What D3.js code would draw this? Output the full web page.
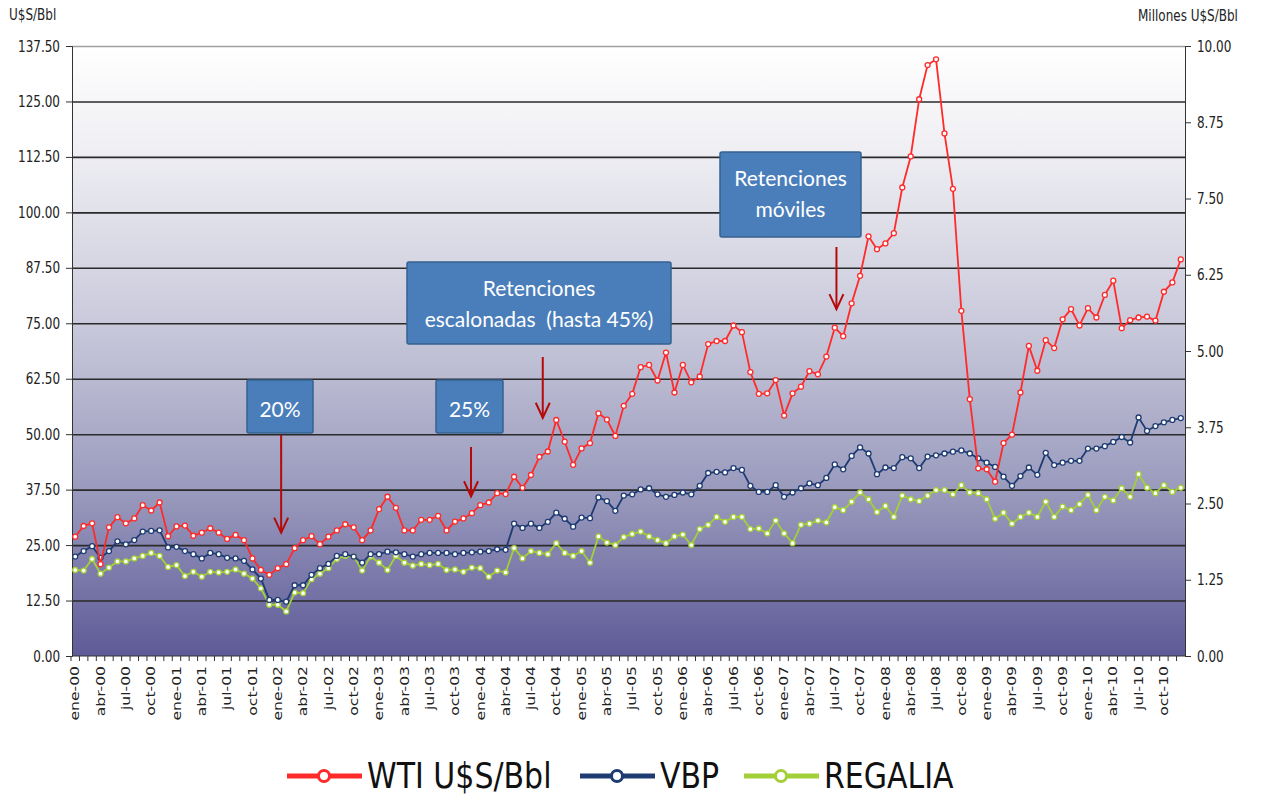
<!DOCTYPE html>
<html>
<head>
<meta charset="utf-8">
<script src="https://cdn.jsdelivr.net/npm/d3@7"></script>
<style>
  body { margin: 0; background: #fff; }
  svg { display: block; font-family: "DejaVu Sans", Verdana, sans-serif; }
</style>
</head>
<body>
<svg width="1263" height="797"></svg>
<script>
// categories
const monthNames = ["ene", "feb", "mar", "abr", "may", "jun", "jul", "ago", "sep", "oct", "nov", "dic"];
const years = ["00", "01", "02", "03", "04", "05", "06", "07", "08", "09", "10"];

// WTI, U$S/Bbl (left axis)
const wti = [
  26.9, 29.3, 29.9, 20.7, 29.0, 31.3, 29.9, 31.0, 34.0, 32.8, 34.6, 27.0,
  29.2, 29.4, 27.1, 27.8, 28.8, 27.8, 26.4, 27.3, 26.1, 22.0, 19.4, 18.3,
  19.8, 20.7, 24.3, 26.1, 27.0, 25.2, 26.9, 28.3, 29.7, 29.0, 26.1, 28.3,
  33.1, 35.9, 33.4, 28.3, 28.3, 30.7, 30.7, 31.6, 28.3, 30.3, 31.0, 32.2,
  34.0, 34.6, 36.7, 36.5, 40.4, 37.9, 40.8, 44.9, 46.1, 53.2, 48.3, 43.1,
  46.8, 48.0, 54.7, 53.3, 49.6, 56.4, 59.1, 65.1, 65.6, 62.1, 68.4, 59.4,
  65.6, 61.7, 63.0, 70.3, 71.0, 71.0, 74.5, 73.0, 64.0, 59.1, 59.2, 62.2,
  54.2, 59.2, 60.7, 64.2, 63.5, 67.5, 74.0, 72.1, 79.5, 85.7, 94.6, 91.7,
  93.0, 95.3, 105.6, 112.6, 125.5, 133.2, 134.5, 117.8, 105.3, 77.8, 57.9, 42.3,
  42.1, 39.3, 48.0, 49.9, 59.4, 69.9, 64.3, 71.2, 69.4, 75.9, 78.2, 74.5,
  78.4, 76.3, 81.4, 84.6, 73.9, 75.7, 76.3, 76.5, 75.6, 82.1, 84.2, 89.4
];

// VBP, millones (right axis)
const vbp = [
  1.63, 1.72, 1.80, 1.61, 1.72, 1.88, 1.83, 1.90, 2.04, 2.05, 2.06, 1.78,
  1.79, 1.72, 1.67, 1.60, 1.69, 1.67, 1.61, 1.60, 1.56, 1.42, 1.27, 0.92,
  0.92, 0.89, 1.16, 1.16, 1.33, 1.44, 1.51, 1.64, 1.67, 1.63, 1.53, 1.67,
  1.67, 1.71, 1.70, 1.67, 1.63, 1.67, 1.69, 1.69, 1.69, 1.67, 1.69, 1.70,
  1.71, 1.72, 1.75, 1.74, 2.17, 2.10, 2.17, 2.10, 2.20, 2.35, 2.25, 2.12,
  2.27, 2.26, 2.60, 2.54, 2.38, 2.63, 2.65, 2.73, 2.75, 2.65, 2.61, 2.64,
  2.68, 2.65, 2.79, 3.00, 3.02, 3.01, 3.08, 3.05, 2.79, 2.69, 2.69, 2.80,
  2.61, 2.68, 2.75, 2.83, 2.80, 2.92, 3.14, 3.06, 3.28, 3.42, 3.32, 2.98,
  3.09, 3.08, 3.26, 3.24, 3.08, 3.27, 3.29, 3.32, 3.35, 3.37, 3.32, 3.24,
  3.17, 3.10, 2.94, 2.79, 2.95, 3.09, 2.97, 3.33, 3.13, 3.17, 3.20, 3.20,
  3.40, 3.40, 3.44, 3.51, 3.59, 3.50, 3.91, 3.69, 3.77, 3.83, 3.87, 3.90
];

// REGALIA, millones (right axis)
const regalia = [
  1.41, 1.40, 1.59, 1.35, 1.45, 1.55, 1.55, 1.60, 1.64, 1.69, 1.64, 1.46,
  1.49, 1.31, 1.38, 1.30, 1.38, 1.37, 1.38, 1.42, 1.35, 1.27, 1.11, 0.84,
  0.84, 0.73, 1.04, 1.03, 1.26, 1.35, 1.44, 1.59, 1.64, 1.63, 1.40, 1.63,
  1.53, 1.41, 1.64, 1.53, 1.48, 1.51, 1.49, 1.51, 1.41, 1.42, 1.38, 1.45,
  1.44, 1.30, 1.40, 1.37, 1.77, 1.60, 1.72, 1.69, 1.67, 1.85, 1.69, 1.64,
  1.72, 1.53, 1.96, 1.86, 1.82, 1.95, 2.00, 2.04, 1.96, 1.90, 1.85, 1.96,
  1.99, 1.82, 2.08, 2.15, 2.28, 2.20, 2.28, 2.28, 2.08, 2.09, 2.01, 2.22,
  2.01, 1.85, 2.15, 2.17, 2.22, 2.19, 2.44, 2.39, 2.53, 2.68, 2.57, 2.36,
  2.46, 2.28, 2.63, 2.57, 2.54, 2.63, 2.72, 2.72, 2.65, 2.80, 2.68, 2.67,
  2.57, 2.25, 2.35, 2.17, 2.28, 2.35, 2.28, 2.53, 2.28, 2.45, 2.39, 2.49,
  2.64, 2.39, 2.61, 2.55, 2.75, 2.61, 2.98, 2.76, 2.67, 2.80, 2.69, 2.76
];

const leftTicks = d3.range(0, 137.51, 12.5);
const rightTicks = d3.range(0, 10.001, 1.25);

const svg = d3.select("svg");
const plotLeft = 72, plotRight = 1185, plotTop = 46, plotBottom = 656;
const stretch = 1.3; // the original image is a bit taller than wide

const months = years.flatMap(y => monthNames.map(m => `${m}-${y}`));
const x = d3.scaleBand().domain(months).range([71, plotRight]);
const xc = d => x(d) + x.bandwidth() / 2;
const xAt = i => x.range()[0] + (i + 0.5) * x.step();
const yL = d3.scaleLinear().domain([0, 137.5]).range([plotBottom, plotTop]);
const yR = d3.scaleLinear().domain([0, 10]).range([plotBottom, plotTop]);

// background gradient
const grad = svg.append("defs").append("linearGradient")
  .attr("id", "bg").attr("x1", 0).attr("y1", 0).attr("x2", 0).attr("y2", 1);
[[0, "#ffffff"], [0.15, "#f1f1f5"], [0.45, "#cacadc"], [0.75, "#9696bb"], [1, "#5d5a97"]]
  .forEach(([o, c]) => grad.append("stop").attr("offset", o).attr("stop-color", c));

svg.append("rect")
  .attr("x", plotLeft).attr("y", plotTop)
  .attr("width", plotRight - plotLeft).attr("height", plotBottom - plotTop)
  .attr("fill", "url(#bg)");

// gridlines
svg.append("g")
  .attr("transform", `translate(${plotLeft},0)`)
  .call(d3.axisLeft(yL).tickValues(leftTicks.slice(1)).tickSize(-(plotRight - plotLeft)).tickFormat(""))
  .call(g => g.select(".domain").remove())
  .selectAll("line")
  .attr("stroke", d => d === 137.5 ? "#a0a0a0" : "#2a2a2a")
  .attr("stroke-width", 1.6);

// left axis
const gl = svg.append("g")
  .attr("transform", `translate(${plotLeft},0)`)
  .call(d3.axisLeft(yL).tickValues(leftTicks).tickSize(6).tickPadding(6).tickFormat(d3.format(".2f")));
gl.attr("font-size", 12).attr("font-family", null);
gl.select(".domain").attr("stroke", "#333");
gl.selectAll(".tick line").attr("stroke", "#333");
gl.selectAll("text").attr("fill", "#222").attr("transform", `scale(1,${stretch})`);

// right axis
const gr = svg.append("g")
  .attr("transform", `translate(${plotRight},0)`)
  .call(d3.axisRight(yR).tickValues(rightTicks).tickSize(6).tickPadding(6).tickFormat(d3.format(".2f")));
gr.attr("font-size", 12).attr("font-family", null);
gr.select(".domain").attr("stroke", "#333");
gr.selectAll(".tick line").attr("stroke", "#333");
gr.selectAll("text").attr("fill", "#222").attr("transform", `scale(1,${stretch})`);

// bottom: month ticks at band edges
svg.append("g")
  .attr("transform", `translate(${-x.step() / 2},${plotBottom})`)
  .call(d3.axisBottom(x).tickSize(5).tickFormat(""))
  .call(g => g.select(".domain").remove())
  .selectAll("line").attr("stroke", "#333");

svg.append("line")
  .attr("x1", plotLeft).attr("x2", plotRight).attr("y1", plotBottom).attr("y2", plotBottom)
  .attr("stroke", "#333").attr("stroke-width", 1.2);

// bottom: quarter labels
const gx = svg.append("g")
  .attr("transform", `translate(0,${plotBottom})`)
  .call(d3.axisBottom(x).tickValues(months.filter((d, i) => i % 3 === 0)).tickSize(0));
gx.attr("font-size", 12).attr("font-family", null);
gx.select(".domain").remove();
gx.selectAll("text")
  .attr("fill", "#222")
  .attr("x", 0).attr("y", 0).attr("dy", "0.35em")
  .attr("text-anchor", "end")
  .attr("transform", `translate(0,10) scale(1,${stretch}) rotate(-90)`);

// axis titles
svg.append("text").attr("transform", `translate(9,20) scale(1,${stretch})`)
  .attr("font-size", 12).attr("fill", "#222").text("U$S/Bbl");
svg.append("text").attr("transform", `translate(1138,21) scale(1,${stretch})`)
  .attr("font-size", 12).attr("fill", "#222").text("Millones U$S/Bbl");

// series
const series = [
  { name: "REGALIA", values: regalia, y: yR, color: "#a3cf38" },
  { name: "VBP", values: vbp, y: yR, color: "#1e3c72" },
  { name: "WTI U$S/Bbl", values: wti, y: yL, color: "#ff2a2a" }
];

series.forEach(s => {
  const pts = s.values.map((v, i) => [months[i], v]);
  svg.append("path")
    .datum(pts)
    .attr("fill", "none")
    .attr("stroke", s.color)
    .attr("stroke-width", 1.8)
    .attr("d", d3.line().x(d => xc(d[0])).y(d => s.y(d[1])));
  svg.append("g").selectAll("circle")
    .data(pts)
    .join("circle")
    .attr("cx", d => xc(d[0]))
    .attr("cy", d => s.y(d[1]))
    .attr("r", 2.5)
    .attr("fill", "#fff")
    .attr("stroke", s.color)
    .attr("stroke-width", 1.3);
});

// annotations
const arrowColor = "#b40a0a";
function arrow(xp, y1, y2) {
  const g = svg.append("g").attr("stroke", arrowColor).attr("stroke-width", 2).attr("fill", "none");
  g.append("line").attr("x1", xp).attr("x2", xp).attr("y1", y1).attr("y2", y2);
  g.append("path").attr("d", `M${xp - 7},${y2 - 15}L${xp},${y2}L${xp + 7},${y2 - 15}`);
}
function box(bx, by, bw, bh, lines, baselines) {
  svg.append("rect")
    .attr("x", bx).attr("y", by).attr("width", bw).attr("height", bh)
    .attr("rx", 2)
    .attr("fill", "#4a7ebb").attr("stroke", "#35618f").attr("stroke-width", 1.5);
  lines.forEach((t, k) => {
    svg.append("text")
      .attr("x", bx + bw / 2).attr("y", baselines[k])
      .attr("text-anchor", "middle")
      .attr("font-family", "Lato, 'Open Sans', sans-serif")
      .attr("font-size", 21)
      .attr("fill", "#fff")
      .attr("xml:space", "preserve")
      .text(t);
  });
}

box(247, 380, 66, 53, ["20%"], [417]);
arrow(xAt(24.4), 435, yL(27.8));

box(436, 380, 67, 53, ["25%"], [417]);
arrow(xAt(46.9), 447, yL(36));

box(407, 262, 264, 82, ["Retenciones", "escalonadas  (hasta 45%)"], [296, 327]);
arrow(xAt(55.4), 357, yL(53.7));

box(720, 152, 141, 85, ["Retenciones", "móviles"], [186, 217]);
arrow(xAt(90.2), 247, yL(78.2));

// legend
const legendX = [287, 580, 744];
const legendY = 776;
series.slice().reverse().forEach((s, k) => {
  const lx = legendX[k];
  const g = svg.append("g");
  g.append("line")
    .attr("x1", lx).attr("x2", lx + 75).attr("y1", legendY).attr("y2", legendY)
    .attr("stroke", s.color).attr("stroke-width", 5);
  g.append("circle")
    .attr("cx", lx + 37).attr("cy", legendY).attr("r", 5.5)
    .attr("fill", "#fff").attr("stroke", s.color).attr("stroke-width", 3);
  g.append("text")
    .attr("transform", `translate(${lx + 80},${legendY + 12}) scale(1,1.2)`)
    .attr("font-size", 30)
    .attr("fill", "#111")
    .text(s.name);
});
</script>
</body>
</html>
